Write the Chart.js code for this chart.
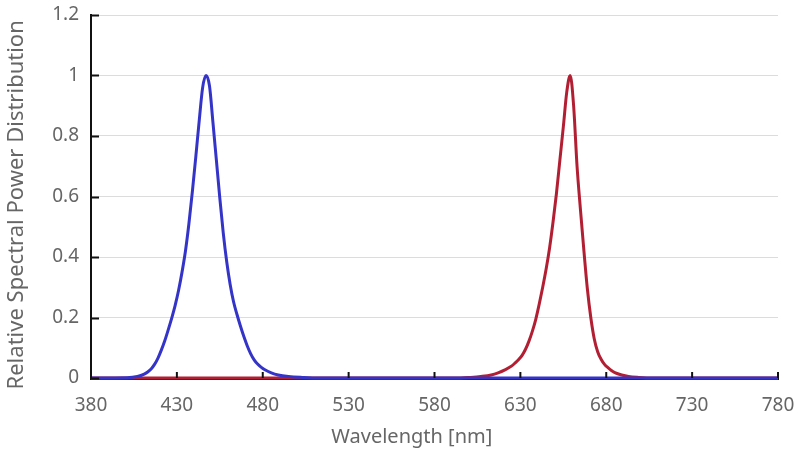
<!DOCTYPE html>
<html>
<head>
<meta charset="utf-8">
<script src="https://cdn.jsdelivr.net/npm/chart.js@4/dist/chart.umd.min.js"></script>
<style>
  html, body { margin: 0; padding: 0; background: #fff; }
  #wrap { width: 798px; height: 455px; }
</style>
</head>
<body>
<div id="wrap"><canvas id="spd"></canvas></div>
<script>
// spectral power distribution, blue + red LED
const xTicks = [380, 430, 480, 530, 580, 630, 680, 730, 780];
const yTicks = [0, 0.2, 0.4, 0.6, 0.8, 1, 1.2];
const yLabels = ['0', '0.2', '0.4', '0.6', '0.8', '1', '1.2'];
const xTitle = 'Wavelength [nm]';
const yTitle = 'Relative Spectral Power Distribution';

const blueNm = [380, 401, 407, 411, 413, 415, 417, 419, 421, 423, 425,
  427, 429, 431, 433, 435, 437, 439, 441, 443, 445,
  447, 449, 451, 453, 455, 457, 459, 461, 463, 465, 467, 469, 471, 473, 475, 477, 479, 481,
  485, 489, 495, 503, 513, 780];
const blueVal = [0, 0.001, 0.005, 0.013, 0.02, 0.03, 0.045, 0.066, 0.093, 0.124, 0.16,
  0.198, 0.24, 0.29, 0.35, 0.42, 0.51, 0.615, 0.73, 0.85, 0.96,
  1.00, 0.965, 0.845, 0.72, 0.595, 0.48, 0.385, 0.31, 0.252, 0.21, 0.172, 0.137, 0.106, 0.08, 0.06, 0.046, 0.036, 0.028,
  0.017, 0.01, 0.005, 0.002, 0, 0];

const redNm = [380, 595, 601, 607, 613, 617, 621, 625, 627, 629, 631, 633, 635, 637, 639, 641, 643, 645, 647,
  649, 651, 653, 655, 657, 659, 661, 663, 665, 667, 669, 671, 673, 675, 677, 679, 681, 683, 685,
  689, 693, 699, 707, 780];
const redVal = [0, 0, 0.002, 0.005, 0.01, 0.017, 0.027, 0.04, 0.05, 0.061, 0.075, 0.095, 0.122, 0.155, 0.195, 0.245, 0.3, 0.36, 0.43,
  0.515, 0.61, 0.72, 0.83, 0.945, 1.00, 0.90, 0.70, 0.555, 0.42, 0.295, 0.2, 0.13, 0.087, 0.062, 0.045, 0.034, 0.025, 0.018,
  0.01, 0.005, 0.002, 0, 0];

const toPts = (xs, ys) => xs.map((x, i) => ({ x, y: ys[i] }));
const FONT = "'Noto Sans', 'Open Sans', sans-serif";
const GREY = '#666666';

// short inner tick marks on both axes + axis titles (sit a bit off-centre in the original)
const axisDecor = {
  id: 'axisDecor',
  afterDraw(chart) {
    const { ctx, chartArea, scales } = chart;
    ctx.save();
    ctx.strokeStyle = '#111';
    ctx.lineWidth = 2;
    scales.y.ticks.forEach((t, i) => {
      const py = Math.round(scales.y.getPixelForTick(i)) + 0.5;
      ctx.beginPath(); ctx.moveTo(chartArea.left, py); ctx.lineTo(chartArea.left + 8, py); ctx.stroke();
    });
    scales.x.ticks.forEach((t, i) => {
      const px = scales.x.getPixelForTick(i);
      ctx.beginPath(); ctx.moveTo(px, chartArea.bottom); ctx.lineTo(px, chartArea.bottom - 6); ctx.stroke();
    });

    ctx.fillStyle = GREY;
    ctx.textAlign = 'center';
    ctx.textBaseline = 'middle';
    ctx.font = '20px ' + FONT;
    ctx.fillText(xTitle, chartArea.left + (chartArea.right - chartArea.left) * 0.467, chart.height - 18);
    ctx.translate(17, chartArea.top + (chartArea.bottom - chartArea.top) * 0.523);
    ctx.rotate(-Math.PI / 2);
    ctx.font = '22px ' + FONT;
    ctx.fillText(yTitle, 0, 0);
    ctx.restore();
  }
};

new Chart(document.getElementById('spd'), {
  type: 'line',
  data: {
    datasets: [
      { label: 'Blue', data: toPts(blueNm, blueVal), borderColor: '#3434c8', borderWidth: 3,
        pointRadius: 0, cubicInterpolationMode: 'monotone', fill: false, clip: 4 },
      { label: 'Red', data: toPts(redNm, redVal), borderColor: '#b21f33', borderWidth: 3,
        pointRadius: 0, cubicInterpolationMode: 'monotone', fill: false, clip: 4 }
    ]
  },
  options: {
    responsive: true,
    maintainAspectRatio: false,
    animation: false,
    layout: { padding: { top: 15, right: 20, left: 0, bottom: 0 } },
    plugins: { legend: { display: false }, tooltip: { enabled: false } },
    scales: {
      x: {
        type: 'linear', min: 380, max: 780,
        afterBuildTicks: s => { s.ticks = xTicks.map(v => ({ value: v })); },
        afterFit: s => { s.height = 77; s.paddingLeft = 0; s.paddingRight = 0; },
        ticks: { color: GREY, font: { family: FONT, size: 19 }, padding: 16, maxRotation: 0 },
        grid: { display: false, drawTicks: false },
        border: { color: '#111', width: 3 }
      },
      y: {
        min: 0, max: 1.2,
        afterBuildTicks: s => { s.ticks = yTicks.map(v => ({ value: v })); },
        afterFit: s => { s.width = 91; s.paddingTop = 0; s.paddingBottom = 0; },
        ticks: { color: GREY, font: { family: FONT, size: 19 }, padding: 12,
          callback: (v, i) => yLabels[i] },
        grid: { color: '#dcdcdc', lineWidth: 1, drawTicks: false },
        border: { color: '#111', width: 2 }
      }
    }
  },
  plugins: [axisDecor]
});
</script>
</body>
</html>
